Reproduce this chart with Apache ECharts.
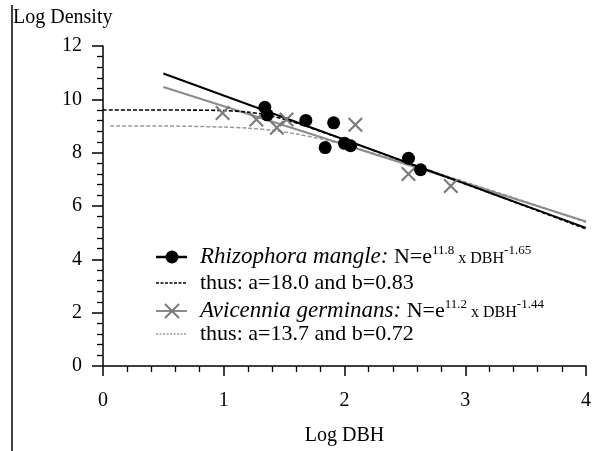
<!DOCTYPE html>
<html>
<head>
<meta charset="utf-8">
<script src="https://cdn.jsdelivr.net/npm/echarts@6/dist/echarts.min.js"></script>
<style>html,body{margin:0;padding:0;background:#fff}#c{width:594px;height:451px}</style>
</head>
<body>
<div id="c"></div>
<script>
// ---- data ----
const rhizoX = [1.34, 1.36, 1.68, 1.91, 1.84, 2.00, 2.05, 2.53, 2.63];
const rhizoY = [9.70, 9.42, 9.21, 9.12, 8.19, 8.35, 8.26, 7.79, 7.36];
const aviX = [0.99, 1.27, 1.44, 1.52, 2.09, 2.53, 2.88];
const aviY = [9.49, 9.24, 8.93, 9.24, 9.05, 7.20, 6.75];
const rhizoFitX = [0.5, 4.0];
const rhizoFitY = [10.97, 5.18];
const aviFitX = [0.5, 4.0];
const aviFitY = [10.46, 5.42];
const rhizoCurveX = [0, 0.5, 1.0, 1.2, 1.35, 1.5, 1.7, 2.0, 2.5, 3.0, 3.5, 4.0];
const rhizoCurveY = [9.60, 9.60, 9.58, 9.52, 9.42, 9.25, 8.96, 8.48, 7.66, 6.83, 5.99, 5.14];
const aviCurveX = [0.06, 0.5, 1.0, 1.2, 1.4, 1.6, 1.8, 2.0, 2.2, 2.5, 3.0, 3.5, 4.0];
const aviCurveY = [9.00, 9.00, 8.96, 8.92, 8.84, 8.70, 8.52, 8.30, 8.03, 7.62, 6.90, 6.16, 5.39];
const xTicks = [0, 1, 2, 3, 4];
const yTicks = [0, 2, 4, 6, 8, 10, 12];
const xTitle = 'Log DBH';
const yTitle = 'Log Density';
const legendRows = [
  {name: 'Rhizophora mangle:', exp1: '11.8', exp2: '-1.65'},
  {thus: 'thus: a=18.0 and b=0.83'},
  {name: 'Avicennia germinans:', exp1: '11.2', exp2: '-1.44'},
  {thus: 'thus: a=13.7 and b=0.72'}
];

const zip = (xs, ys) => xs.map((x, i) => [x, ys[i]]);
const FONT = "'Liberation Serif', 'Times New Roman', serif";
const GRAY_SYM = '#7a7a7a';
const crossPath = 'path://M0,1L1,0L10,9L9,10Z M9,0L10,1L1,10L0,9Z';

const chart = echarts.init(document.getElementById('c'), null, {renderer: 'canvas'});

function eqText(r) {
  return '{i|' + r.name + '}{n| N=e}{sup|' + r.exp1 + '}{s| x DBH}{sup|' + r.exp2 + '}';
}
const rich = {
  i: {fontFamily: FONT, fontStyle: 'italic', fontSize: 23, lineHeight: 26, verticalAlign: 'middle', fill: '#000'},
  n: {fontFamily: FONT, fontSize: 22, lineHeight: 26, verticalAlign: 'middle', fill: '#000'},
  s: {fontFamily: FONT, fontSize: 16, lineHeight: 26, verticalAlign: 'bottom', padding: [0,0,3,0], fill: '#000'},
  sup: {fontFamily: FONT, fontSize: 13, lineHeight: 20, verticalAlign: 'top', fill: '#000'}
};

const option = {
  animation: false,
  backgroundColor: '#fff',
  grid: {left: 103, right: 4, top: 46, bottom: 80, containLabel: false},
  xAxis: {
    type: 'value', min: 0, max: 4, interval: 1,
    name: xTitle, nameLocation: 'middle', nameGap: 60,
    nameTextStyle: {fontFamily: FONT, fontSize: 20, color: '#000'},
    axisLine: {onZero: false, lineStyle: {color: '#000', width: 1.5}},
    axisTick: {show: true, length: 10, lineStyle: {color: '#000', width: 1.5}},
    minorTick: {show: true, splitNumber: 5, length: 6, lineStyle: {color: '#000', width: 1.3}},
    axisLabel: {margin: 25, fontFamily: FONT, fontSize: 20, color: '#000',
      formatter: v => xTicks.includes(v) ? String(v) : ''},
    splitLine: {show: false}
  },
  yAxis: {
    type: 'value', min: 0, max: 12, interval: 2,
    axisLine: {onZero: false, lineStyle: {color: '#000', width: 1.5}},
    axisTick: {show: true, length: 11, lineStyle: {color: '#000', width: 1.5}},
    minorTick: {show: true, splitNumber: 5, length: 6, lineStyle: {color: '#000', width: 1.3}},
    axisLabel: {margin: 21, fontFamily: FONT, fontSize: 20, color: '#000',
      formatter: v => yTicks.includes(v) ? String(v) : ''},
    splitLine: {show: false}
  },
  series: [
    {type: 'line', name: 'aviCurve', data: zip(aviCurveX, aviCurveY), smooth: 0.3, showSymbol: false,
      lineStyle: {color: '#9a9a9a', width: 1.5, type: [4, 2]}, z: 2},
    {type: 'line', name: 'rhizoCurve', data: zip(rhizoCurveX, rhizoCurveY), smooth: 0.3, showSymbol: false,
      lineStyle: {color: '#000', width: 1.6, type: [4, 2]}, z: 3},
    {type: 'line', name: 'aviFit', data: zip(aviFitX, aviFitY), showSymbol: false,
      lineStyle: {color: '#8c8c8c', width: 2}, z: 2},
    {type: 'line', name: 'rhizoFit', data: zip(rhizoFitX, rhizoFitY), showSymbol: false,
      lineStyle: {color: '#000', width: 2}, z: 3},
    {type: 'scatter', name: 'Avicennia', data: zip(aviX, aviY), symbol: crossPath, symbolSize: 15,
      itemStyle: {color: GRAY_SYM, opacity: 1}, z: 4},
    {type: 'scatter', name: 'Rhizophora', data: zip(rhizoX, rhizoY), symbol: 'circle', symbolSize: 13,
      itemStyle: {color: '#000', opacity: 1}, z: 5}
  ],
  graphic: [
    {type: 'line', shape: {x1: 12, y1: 5, x2: 12, y2: 451}, style: {stroke: '#000', lineWidth: 1.5}},
    {type: 'text', left: 13, top: 8, style: {text: yTitle, font: '20px ' + FONT, fill: '#000'}},
    // legend row 1
    {type: 'line', shape: {x1: 156, y1: 257, x2: 187, y2: 257}, style: {stroke: '#000', lineWidth: 2.5}},
    {type: 'circle', shape: {cx: 172, cy: 257, r: 6.5}, style: {fill: '#000'}},
    {type: 'text', x: 200, y: 257, style: {text: eqText(legendRows[0]), rich: rich, verticalAlign: 'middle', fill: '#000'}},
    // legend row 2
    {type: 'line', shape: {x1: 156, y1: 283, x2: 187, y2: 283}, style: {stroke: '#000', lineWidth: 1.5, lineDash: [3, 1.5]}},
    {type: 'text', x: 200, y: 283, style: {text: legendRows[1].thus, font: '22px ' + FONT, verticalAlign: 'middle', fill: '#000'}},
    // legend row 3
    {type: 'line', shape: {x1: 156, y1: 311, x2: 187, y2: 311}, style: {stroke: '#8c8c8c', lineWidth: 2}},
    {type: 'line', shape: {x1: 165, y1: 304, x2: 179, y2: 318}, style: {stroke: GRAY_SYM, lineWidth: 2}},
    {type: 'line', shape: {x1: 179, y1: 304, x2: 165, y2: 318}, style: {stroke: GRAY_SYM, lineWidth: 2}},
    {type: 'text', x: 200, y: 311, style: {text: eqText(legendRows[2]), rich: rich, verticalAlign: 'middle', fill: '#000'}},
    // legend row 4
    {type: 'line', shape: {x1: 156, y1: 334, x2: 187, y2: 334}, style: {stroke: '#9a9a9a', lineWidth: 1.3, lineDash: [2, 1.5]}},
    {type: 'text', x: 200, y: 334, style: {text: legendRows[3].thus, font: '22px ' + FONT, verticalAlign: 'middle', fill: '#000'}}
  ]
};
chart.setOption(option);
</script>
</body>
</html>
